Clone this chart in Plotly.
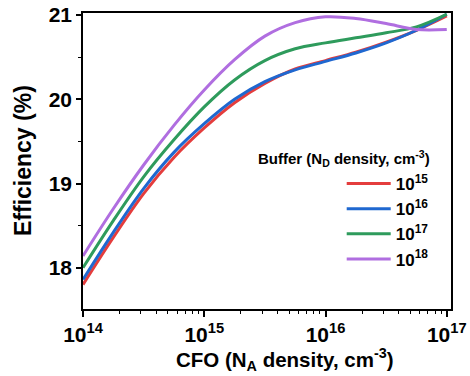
import plotly.graph_objects as go

# log10 of CFO acceptor density
log_na = [14.0, 14.25, 14.5, 14.75, 15.0, 15.25, 15.5, 15.75, 16.0, 16.25, 16.5, 16.75, 17.0]
cfo_na = [10 ** v for v in log_na]

eff_1e15 = [17.80, 18.36, 18.88, 19.31, 19.66, 19.96, 20.19, 20.36, 20.46, 20.56, 20.68, 20.82, 20.99]
eff_1e16 = [17.86, 18.42, 18.94, 19.37, 19.71, 20.00, 20.21, 20.35, 20.45, 20.55, 20.67, 20.82, 21.01]
eff_1e17 = [18.00, 18.56, 19.08, 19.52, 19.91, 20.23, 20.46, 20.60, 20.67, 20.73, 20.79, 20.86, 21.01]
eff_1e18 = [18.14, 18.70, 19.22, 19.69, 20.11, 20.47, 20.75, 20.91, 20.98, 20.96, 20.90, 20.83, 20.83]

series_names = ["10<sup>15</sup>", "10<sup>16</sup>", "10<sup>17</sup>", "10<sup>18</sup>"]
series_vals = [eff_1e15, eff_1e16, eff_1e17, eff_1e18]
series_colors = ["#e43d3d", "#1f68d0", "#2e9b5c", "#b06ee0"]

x_tickvals = [1e14, 1e15, 1e16, 1e17]
x_ticktext = ["10<sup>14</sup>", "10<sup>15</sup>", "10<sup>16</sup>", "10<sup>17</sup>"]
x_minor = [k * 10 ** e for e in (14, 15, 16) for k in range(2, 10)]
y_tickvals = [18, 19, 20, 21]

FONT = "Liberation Sans, Arial, sans-serif"

fig = go.Figure()
for name, vals, col in zip(series_names, series_vals, series_colors):
    fig.add_trace(go.Scatter(
        x=cfo_na, y=vals, name=name, mode="lines",
        line=dict(color=col, width=3, shape="spline", smoothing=1.0),
    ))

fig.update_layout(
    width=470, height=376,
    margin=dict(l=83, r=19, t=13, b=67),
    paper_bgcolor="white", plot_bgcolor="white",
    font=dict(family=FONT, color="black"),
    showlegend=True,
    legend=dict(
        x=0.703, y=0.483, xanchor="left", yanchor="top",
        bgcolor="rgba(0,0,0,0)",
        font=dict(size=17, family=FONT, color="black", weight="bold"),
        itemwidth=44, tracegroupgap=0,
    ),
    annotations=[
        dict(x=0.948, y=0.51, xref="paper", yref="paper", xanchor="right", yanchor="middle",
             text="<b>Buffer (N<sub>D</sub> density, cm<sup>-3</sup>)</b>",
             showarrow=False, font=dict(size=15, family=FONT, color="black")),
        dict(x=0.549, y=-0.172, xref="paper", yref="paper", xanchor="center", yanchor="middle",
             text="<b>CFO (N<sub>A</sub> density, cm<sup>-3</sup>)</b>",
             showarrow=False, font=dict(size=20.5, family=FONT, color="black")),
        dict(x=-0.163, y=0.5, xref="paper", yref="paper", xanchor="center", yanchor="middle",
             text="<b>Efficiency (%)</b>", textangle=-90,
             showarrow=False, font=dict(size=23, family=FONT, color="black")),
    ],
)

fig.update_xaxes(
    type="log", range=[14, 17.035], automargin=False,
    tickvals=x_tickvals, ticktext=x_ticktext,
    ticks="outside", ticklen=6, tickwidth=1.5, tickcolor="black",
    minor=dict(tickvals=x_minor, ticks="outside", ticklen=3, tickwidth=1, tickcolor="black", showgrid=False),
    showline=True, linecolor="black", linewidth=1.5, mirror=True,
    showgrid=False, zeroline=False,
    tickfont=dict(size=21, family=FONT, color="black", weight="bold"),
)
fig.update_yaxes(
    range=[17.51, 21.025], automargin=False,
    tickvals=y_tickvals,
    ticks="outside", ticklen=5, tickwidth=1.5, tickcolor="black",
    minor=dict(dtick=0.5, ticks="outside", ticklen=3, tickwidth=1, tickcolor="black", showgrid=False),
    showline=True, linecolor="black", linewidth=1.5, mirror=True,
    showgrid=False, zeroline=False,
    tickfont=dict(size=21, family=FONT, color="black", weight="bold"),
)

fig.write_html("out.html")
